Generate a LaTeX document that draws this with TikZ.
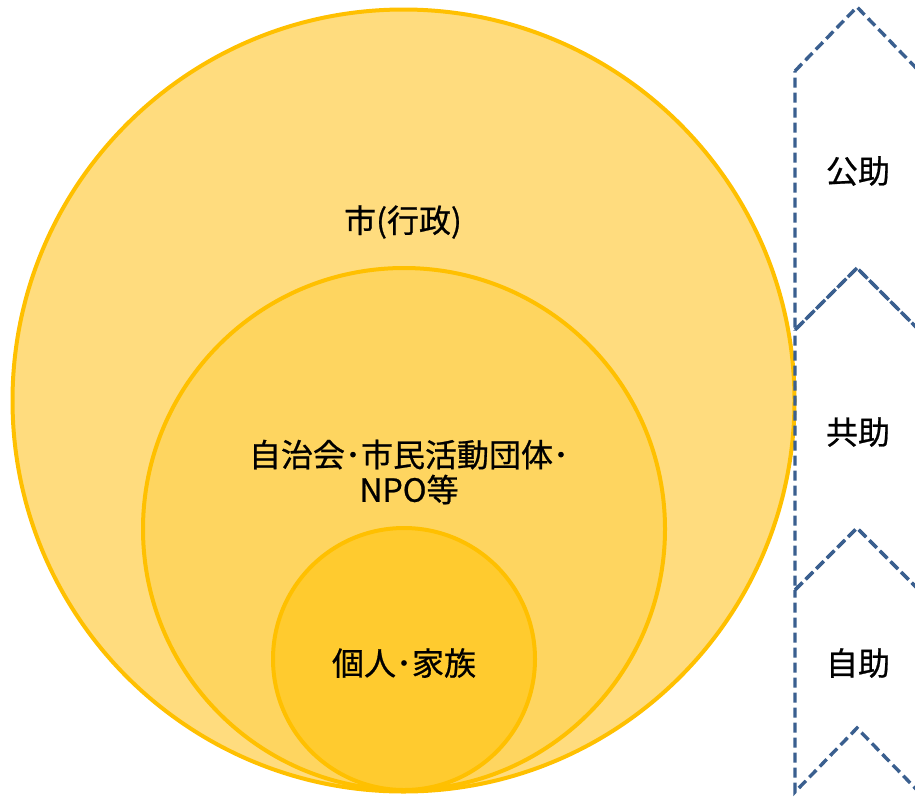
\documentclass[tikz,border=0pt]{standalone}
\usepackage{fontspec}
\setmainfont[FakeBold=0.7]{Noto Sans CJK JP}
\definecolor{ringc}{HTML}{FFC000}
\definecolor{fillA}{HTML}{FFDC7E}
\definecolor{fillB}{HTML}{FED560}
\definecolor{fillC}{HTML}{FFCB2F}
\definecolor{chevc}{HTML}{3A5F8F}
\tikzset{
  ring/.style={draw=ringc, line width=4pt},
  chev/.style={draw=chevc, line width=3.4pt, dash pattern=on 10pt off 5pt, line join=miter},
  lbl/.style={font=\fontsize{32}{35}\selectfont, text=black, align=center, inner sep=0pt}
}
\begin{document}
\begin{tikzpicture}[x=1pt,y=-1pt]
\useasboundingbox (0,0) rectangle (915,796);
\clip (0,0) rectangle (915,796);
\fill[white] (0,0) rectangle (915,796);
% circles
\path[ring, fill=fillA] (403.5,400.5) circle[radius=391];
\path[ring, fill=fillB] (404,529) circle[radius=261];
\path[ring, fill=fillC] (404,659) circle[radius=131];
% labels
\node[lbl] (gov) at (403,222) {市(行政)};
\node[lbl] (comm) at (409,472) {自治会･市民活動団体･\\NPO等};
\node[lbl] (self) at (404,663) {個人･家族};
% chevrons
\draw[chev] (795,71) -- (857,7) -- (919,71) -- (919,330) -- (857,268) -- (795,330) -- cycle;
\draw[chev] (795,330) -- (857,268) -- (919,330) -- (919,590) -- (857,528) -- (795,590) -- cycle;
\draw[chev] (795,590) -- (857,528) -- (919,590) -- (919,792) -- (857,728) -- (795,792) -- cycle;
\node[lbl] (kojo) at (858,171) {公助};
\node[lbl] (kyojo) at (858,432) {共助};
\node[lbl] (jijo) at (858,663) {自助};
\end{tikzpicture}
\end{document}
